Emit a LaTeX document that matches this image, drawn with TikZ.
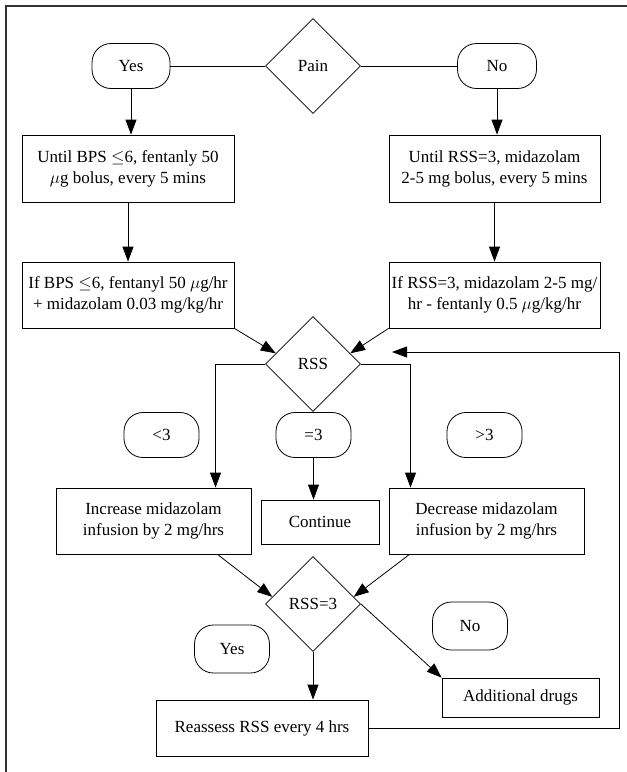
\documentclass[tikz,border=0pt]{standalone}
\usepackage{fontspec}
\setmainfont{Liberation Serif}
\usetikzlibrary{shapes.geometric}
\usetikzlibrary{arrows.meta}

\begin{document}
\begin{tikzpicture}[x=1pt, y=-1pt, line width=0.8pt,
        font=\fontsize{17}{21}\selectfont,
        box/.style={draw, rectangle, align=center, inner sep=0pt},
        choice/.style={draw, diamond, minimum width=95pt, minimum height=95pt, inner sep=0pt},
        answer/.style={draw, rectangle, rounded corners=19pt, minimum width=75pt, minimum height=45pt, inner sep=0pt},
        arr/.style={-{Triangle[length=15pt, width=11pt]}}]
        \useasboundingbox (0,0) rectangle (627,772);
        \draw [line width=1.2pt, black!80] (627,6) -- (6,6) -- (6,772);
        % pain
        \node [choice] (pain) at (313,66) {Pain};
        \node [answer, minimum width=78pt] (yes1) at (131,66) {Yes};
        \node [answer, minimum width=79pt] (no1) at (497,66) {No};
        \node [box, minimum width=212pt, minimum height=67pt] (until1) at (128,168.5) {Until BPS $\leq$6, fentanly 50\\ $\mu$g bolus, every 5 mins};
        \node [box, minimum width=211pt, minimum height=67pt] (until2) at (494.5,168.5) {Until RSS=3, midazolam\\ 2-5 mg bolus, every 5 mins};
        \node [box, minimum width=212pt, minimum height=66pt] (if1) at (128,295) {If BPS $\leq$6, fentanyl 50 $\mu$g/hr\\ + midazolam 0.03 mg/kg/hr};
        \node [box, minimum width=211pt, minimum height=66pt] (if2) at (494.5,295) {If RSS=3, midazolam 2-5 mg/\\ hr - fentanly 0.5 $\mu$g/kg/hr};
        % rss
        \node [choice] (rss) at (313,364) {RSS};
        \node [answer] (lt3) at (161.5,435) {<3};
        \node [answer] (eq3) at (313.5,435) {=3};
        \node [answer] (gt3) at (484.5,435) {>3};
        \node [box, minimum width=195pt, minimum height=66pt] (increase) at (153.5,521) {Increase midazolam\\ infusion by 2 mg/hrs};
        \node [box, minimum width=118pt, minimum height=44pt] (continue) at (320,522) {Continue};
        \node [box, minimum width=195pt, minimum height=66pt] (decrease) at (486.5,521) {Decrease midazolam\\ infusion by 2 mg/hrs};
        % rss=3
        \node [choice] (rss3) at (313,604) {RSS=3};
        \node [answer, minimum height=48pt] (yes2) at (232,649) {Yes};
        \node [answer, minimum height=48pt] (no2) at (470,626) {No};
        \node [box, minimum width=212pt, minimum height=56pt] (reassess) at (262,728) {Reassess RSS every 4 hrs};
        \node [box, minimum width=157pt, minimum height=39pt] (additional) at (520.5,697.5) {Additional drugs};
        \coordinate (loop) at (619,352);
        \coordinate (back) at (392,352);

        \draw (yes1) -- (pain) -- (no1);
        \draw [arr] (yes1.south) -- (yes1.south |- until1.north);
        \draw [arr] (no1.south) -- (no1.south |- until2.north);
        \draw [arr] (until1) -- (if1);
        \draw [arr] (until2) -- (if2);
        \draw [arr] (if1.south east) -- (rss.164);
        \draw [arr] (if2.south west) -- (rss.16);
        \draw [arr] (rss.west) -| ([xshift=62pt]increase.north);
        \draw [arr] (rss.east) -| ([xshift=-76pt]decrease.north);
        \draw [arr] (eq3.south) -- (eq3.south |- continue.north);
        \draw [arr] ([xshift=64pt]increase.south) -- (rss3.170);
        \draw [arr] ([xshift=-77pt]decrease.south) -- (rss3.10);
        \draw [arr] (rss3.east) -- (additional.north west);
        \draw [arr] (rss3.south) -- (rss3.south |- reassess.north);
        \draw [arr] (reassess.east) -| (loop) -- (back);
\end{tikzpicture}
\end{document}
